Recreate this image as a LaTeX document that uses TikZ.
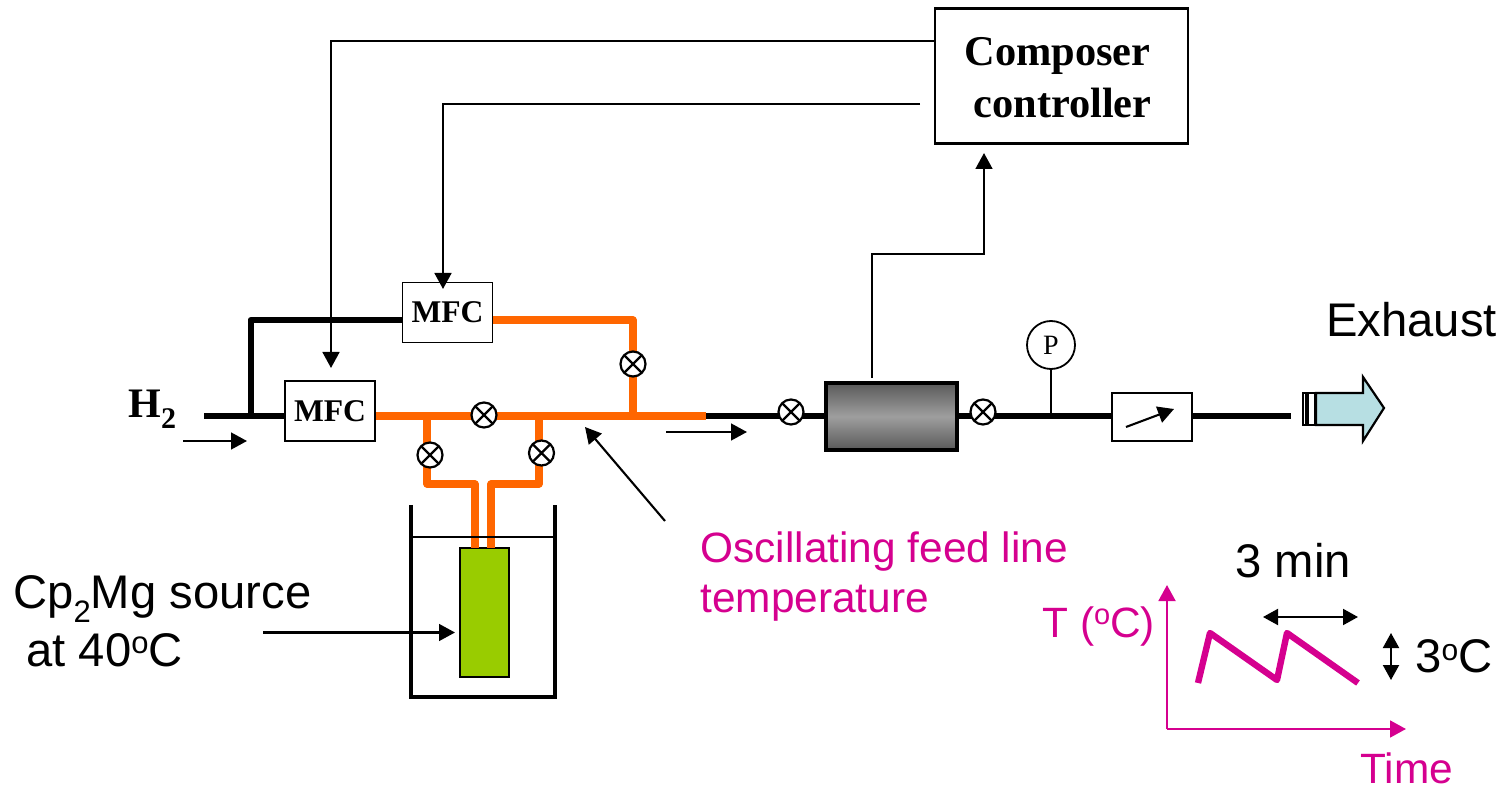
\documentclass[tikz,border=0pt]{standalone}
\usepackage{fontspec}
\setmainfont{Liberation Sans}
\newfontfamily\tnr{Liberation Serif}
\usetikzlibrary{arrows.meta,calc}
\definecolor{pipeor}{HTML}{FF6600}
\definecolor{mag}{HTML}{D5008F}
\definecolor{grn}{HTML}{99CC00}
\definecolor{exh}{HTML}{B7DFE3}
\tikzset{
  x=0.5pt,y=-0.5pt,
  tip/.style={-{Triangle[length=8pt,width=8.4pt]}},
  dbl/.style={line width=1pt,{Triangle[length=7.5pt,width=8pt]}-{Triangle[length=7.5pt,width=8pt]}},
  sig/.style={line width=1.15pt,tip},
  thin arrow/.style={line width=1.05pt,tip},
  blk/.style={line width=3pt,black,line join=round},
  org/.style={line width=3.6pt,pipeor,line join=round},
  boxn/.style={draw,line width=0.95pt,fill=white,inner sep=0pt},
  mfcbox/.style={boxn,minimum width=45pt,minimum height=30pt,font=\tnr\bfseries\fontsize{15.8}{18}\selectfont},
  valve/.style={circle,draw,line width=1.1pt,fill=white,minimum size=12.5pt,inner sep=0pt,
    path picture={\draw[line width=1.1pt] (path picture bounding box.north west)--(path picture bounding box.south east)
      (path picture bounding box.north east)--(path picture bounding box.south west);}},
  lab/.style={anchor=base west,inner sep=0pt,font=\fontsize{23.6}{28}\selectfont},
  mlab/.style={lab,text=mag,font=\fontsize{21.2}{25}\selectfont},
  ctext/.style={anchor=base west,inner sep=0pt,font=\tnr\bfseries\fontsize{21.2}{26}\selectfont},
}
\newcommand{\supo}[1]{\raisebox{6pt}{\fontsize{#1}{16}\selectfont o}}
\begin{document}
\begin{tikzpicture}
\useasboundingbox (0,0) rectangle (1512,791);
% boxes
\node[boxn,line width=1.25pt,minimum width=126.5pt,minimum height=67.5pt] (ctrl) at (1061.5,76) {};
\node[ctext] (ctA) at (964,66) {Composer};
\node[ctext] (ctB) at (973,118) {controller};
\node[mfcbox] (mfcA) at (447.5,312.5) {MFC};
\node[mfcbox] (mfcB) at (330,411) {MFC};
\node[draw,line width=2.1pt,minimum width=65.5pt,minimum height=33.5pt,inner sep=0pt,
  top color=black!65,bottom color=black!65,middle color=black!38] (reactor) at (891.5,416.5) {};
\node[circle,draw,line width=0.9pt,fill=white,minimum size=24pt,inner sep=0pt,font=\tnr\fontsize{14}{16}\selectfont] (pg) at (1051,345) {P};
\node[boxn,minimum width=40pt,minimum height=24pt] (needle) at (1152,417) {};
\node[draw,line width=0.9pt,fill=grn,minimum width=24.5pt,minimum height=64.5pt,inner sep=0pt] (src) at (484.8,612.5) {};
% pipe junctions
\coordinate (h2s) at (204,416);
\coordinate (j0) at (250.5,416);
\coordinate (j0u) at (250.5,320);
\coordinate (j1) at (427,416);
\coordinate (j2) at (539,416);
\coordinate (j3) at (633,416);
\coordinate (ju) at (633,320);
\coordinate (oe) at (706,416);
\coordinate (aT) at (1051,416);
\coordinate (xe) at (1291,416);
% orange piping
\draw[org] (mfcB.east|-j1) -- (oe);
\draw[org] (mfcA.east|-j0u) -- (ju) -- (j3);
\draw[org] (j1) -- (427,484) -- (475,484) -- (475,548);
\draw[org] (j2) -- (539,484) -- (491,484) -- (491,548);
% black piping
\draw[blk] (h2s) -- (mfcB.west|-h2s);
\draw[blk] (j0) -- (j0u) -- (mfcA.west|-j0u);
\draw[blk] (oe) -- (reactor.west|-oe);
\draw[blk] (reactor.east|-aT) -- (needle.west|-aT);
\draw[blk] (needle.east|-xe) -- (xe);
\draw[line width=1pt] (pg.south) -- (aT);
% valves
\node[valve] (v1) at (484,415) {};
\node[valve] (v2) at (633,364) {};
\node[valve] (v3) at (430,455) {};
\node[valve] (v4) at (541.5,453) {};
\node[valve] (v5) at (791,412) {};
\node[valve] (v6) at (983,412) {};
% signals
\draw[sig] (ctrl.west|-0,41) -- (331,41) -- (331,368);
\draw[sig] (920,104) -- (443,104) -- (443,289);
\draw[sig] (872,378) -- (872,254) -- (984,254) -- (984,153);
% needle
\draw[thin arrow] (1126,427) -- (1174,409);
% flow arrows
\draw[thin arrow] (183,441) -- (247,441);
\draw[thin arrow] (666,432) -- (747,432);
\draw[thin arrow] (665,521) -- (585,427);
\draw[thin arrow] (263,632.5) -- (455,632.5);
% beaker
\draw[line width=1.7pt] (411,505) -- (411,697) -- (555,697) -- (555,505);
\draw[line width=1pt] (411,537) -- (555,537);
% exhaust
\draw[line width=1.1pt,fill=exh,line join=miter] (1316,393) -- (1363,393) -- (1363,377) -- (1384,408) -- (1363,441) -- (1363,425) -- (1316,425) -- cycle;
\draw[line width=1.1pt,fill=white] (1303,393) rectangle (1306.5,425);
\draw[line width=1.1pt,fill=white] (1307.5,393) rectangle (1315,425);
% labels
\node[anchor=base west,inner sep=0pt,font=\tnr\bfseries\fontsize{21}{24}\selectfont] (h2) at (128,418) {H\raisebox{-5.5pt}{\fontsize{15}{18}\selectfont 2}};
\node[lab] (exl) at (1326,337) {Exhaust};
\node[lab] (cp) at (13,609) {Cp\raisebox{-6.5pt}{\fontsize{15.5}{18}\selectfont 2}Mg source};
\node[lab] (at) at (26,666) {at 40\supo{15.5}C};
\node[mlab] (osc) at (700,562) {Oscillating feed line};
\node[mlab] (tem) at (700,612) {temperature};
\node[lab] (tmin) at (1235,577) {3 min};
\node[mlab] (tc) at (1042,637) {T (\supo{14.5}C)};
\node[lab] (dc) at (1415,672.5) {3\supo{15}C};
\node[mlab] (ti) at (1360,783) {Time};
% graph
\coordinate (o) at (1167,729);
\draw[line width=1.25pt,mag,tip] (o) -- (1167,585);
\draw[line width=1.25pt,mag,tip] (o) -- (1406,729);
\draw[line width=3.2pt,mag,line join=round] (1198,683) -- (1210,633) -- (1277,680) -- (1287,633) -- (1358,683);
\draw[dbl] (1263,617) -- (1358,617);
\draw[dbl] (1391,633) -- (1391,680);
\end{tikzpicture}
\end{document}
